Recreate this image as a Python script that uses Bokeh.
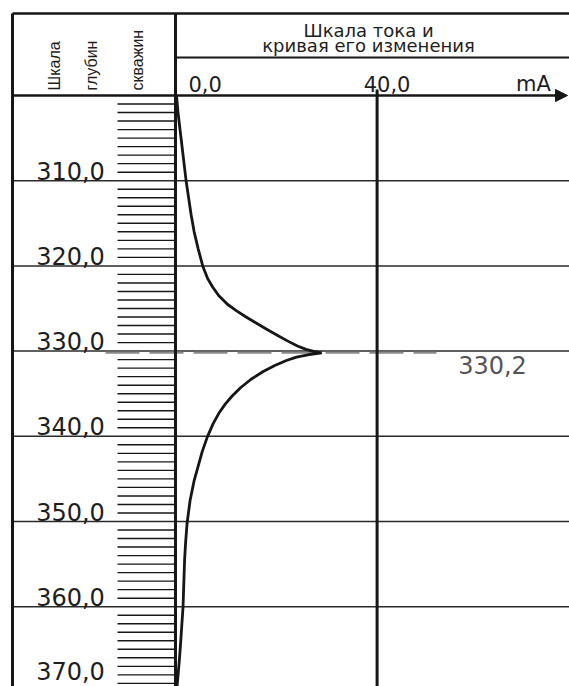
import numpy as np
from bokeh.plotting import figure
from bokeh.models import Range1d, Arrow, NormalHead
from bokeh.core.properties import value
from bokeh.embed import file_html
from bokeh.resources import INLINE

# ---------------- data ----------------
depth = [300.0, 302.0, 304.0, 306.0, 308.0, 310.0, 312.0, 314.0, 316.0, 318.0,
         320.0, 321.5, 322.5, 323.5, 324.5, 325.3, 326.0, 326.7, 327.4, 328.1,
         328.8, 329.4, 329.8, 330.05, 330.2,
         330.4, 330.7, 331.1, 331.7, 332.4, 333.3, 334.3, 335.3, 336.2, 337.2,
         338.6, 340.1, 341.8, 343.5, 345.2, 347.5, 350.2, 352.5, 354.6, 357.2,
         360.0, 362.2, 364.4, 366.4, 368.4, 369.4]
current = [0.2, 0.5, 0.9, 1.3, 1.7, 2.1, 2.6, 3.1, 3.7, 4.5,
           5.4, 6.4, 7.4, 8.6, 10.3, 12.2, 14.0, 16.0, 18.0, 20.1,
           22.2, 24.2, 25.9, 27.6, 29.0,
           26.5, 24.0, 22.0, 19.7, 17.4, 15.0, 12.9, 11.2, 9.9, 8.7,
           7.4, 6.3, 5.3, 4.5, 3.7, 2.9, 2.3, 2.0, 1.8, 1.65,
           1.5, 1.25, 1.0, 0.75, 0.45, 0.3]

depth_top = 300
depth_major = [310, 320, 330, 340, 350, 360, 370]
depth_labels = ["310,0", "320,0", "330,0", "340,0", "350,0", "360,0", "370,0"]
depth_minor = [d for d in range(301, 370) if d % 10 != 0]

current_ticks = [0, 40]
current_labels = ["0,0", "40,0"]
current_unit = "mA"

peak_depth = 330.2
peak_label = "330,2"

header_depth = ["Шкала", "глубин", "скважин"]
header_current = ["Шкала тока и", "кривая его изменения"]

# ---------------- layout ----------------
W, H = 569, 686
PX_MA = 5.04      # pixels per mA
PX_M = 8.52       # pixels per depth unit
ZERO_X = 175      # page x of 0 mA
TOP_Y = 95        # page y of depth 300


def X(px):
    return (px - ZERO_X) / PX_MA


def Y(py):
    return depth_top + (py - TOP_Y) / PX_M


x_start, x_end = X(0), X(W)
y_top, y_bot = Y(0), Y(H)

p = figure(width=W, height=H, output_backend="svg", toolbar_location=None,
           x_axis_location=None, y_axis_location=None,
           x_range=Range1d(x_start, x_end), y_range=Range1d(y_bot, y_top),
           min_border=0, min_border_left=0, min_border_right=0,
           min_border_top=0, min_border_bottom=0)
p.outline_line_color = None
p.xgrid.visible = False
p.ygrid.visible = False
p.background_fill_color = "white"
p.border_fill_color = "white"

INK = "#161616"
FONT = value("DejaVu Sans")
left_x = X(12)

# horizontal depth grid lines
n = len(depth_major)
p.segment(x0=[left_x] * n, y0=depth_major, x1=[x_end] * n, y1=depth_major,
          line_color="#2a2a2a", line_width=1.5)

# minor depth ticks
m = len(depth_minor)
p.segment(x0=[X(117)] * m, y0=depth_minor, x1=[0] * m, y1=depth_minor,
          line_color=INK, line_width=1.4)

# dashed marker of the peak depth
p.segment(x0=[X(105)], y0=[peak_depth], x1=[X(436)], y1=[peak_depth],
          line_color="#8a8a8a", line_width=2, line_dash="34 10")

# current curve
p.line(current, depth, line_color=INK, line_width=2.8)

# frame lines
p.segment(x0=[left_x], y0=[Y(13)], x1=[left_x], y1=[y_bot + 2],
          line_color=INK, line_width=3)
p.segment(x0=[left_x], y0=[Y(13)], x1=[x_end], y1=[Y(13)],
          line_color=INK, line_width=2.5)
p.segment(x0=[current_ticks[0]], y0=[Y(13)], x1=[current_ticks[0]], y1=[y_bot + 2],
          line_color=INK, line_width=3)
p.segment(x0=[current_ticks[1]], y0=[Y(89)], x1=[current_ticks[1]], y1=[y_bot + 2],
          line_color=INK, line_width=3)
p.segment(x0=[0], y0=[Y(57)], x1=[x_end], y1=[Y(57)],
          line_color=INK, line_width=1.8)
p.add_layout(Arrow(x_start=left_x, y_start=depth_top, x_end=X(567), y_end=depth_top,
                   line_color=INK, line_width=2.6,
                   end=NormalHead(size=12, fill_color=INK, line_color=INK)))

MID = "middle"

# depth labels (just above each grid line, kept inside the picture)
label_y = [min(d - 10 / PX_M, y_bot - 16 / PX_M) for d in depth_major]
p.text(x=[X(70)] * n, y=label_y, text=depth_labels,
       text_font=FONT, text_font_size="24px", text_align="center",
       text_baseline=MID, text_color="#1e1e1e")

# current scale labels
p.text(x=[current_ticks[0] + 13 / PX_MA], y=[Y(83.5)], text=[current_labels[0]],
       text_font=FONT, text_font_size="21px", text_align="left",
       text_baseline=MID, text_color="#1e1e1e")
p.text(x=[current_ticks[1] + 10 / PX_MA], y=[Y(83.5)], text=[current_labels[1]],
       text_font=FONT, text_font_size="21px", text_align="center",
       text_baseline=MID, text_color="#1e1e1e")
p.text(x=[X(533)], y=[Y(83.5)], text=[current_unit],
       text_font=FONT, text_font_size="21px", text_align="center",
       text_baseline=MID, text_color="#1e1e1e")

# header of current column
p.text(x=[X(368), X(368)], y=[Y(29.5), Y(45)], text=header_current,
       text_font=FONT, text_font_size="18px", text_align="center",
       text_baseline=MID, text_color="#1e1e1e")

# rotated header of depth column
p.text(x=[X(54), X(91), X(137)], y=[Y(90)] * 3, text=header_depth,
       angle=np.pi / 2, text_font=value("Liberation Sans"),
       text_font_size="16px", text_align="left", text_baseline=MID,
       text_color="#1e1e1e")

# peak depth label
p.text(x=[X(492)], y=[peak_depth + 12 / PX_M], text=[peak_label],
       text_font=FONT, text_font_size="24px", text_align="center",
       text_baseline=MID, text_color="#555555")

open("out.html", "w").write(file_html(p, INLINE))
